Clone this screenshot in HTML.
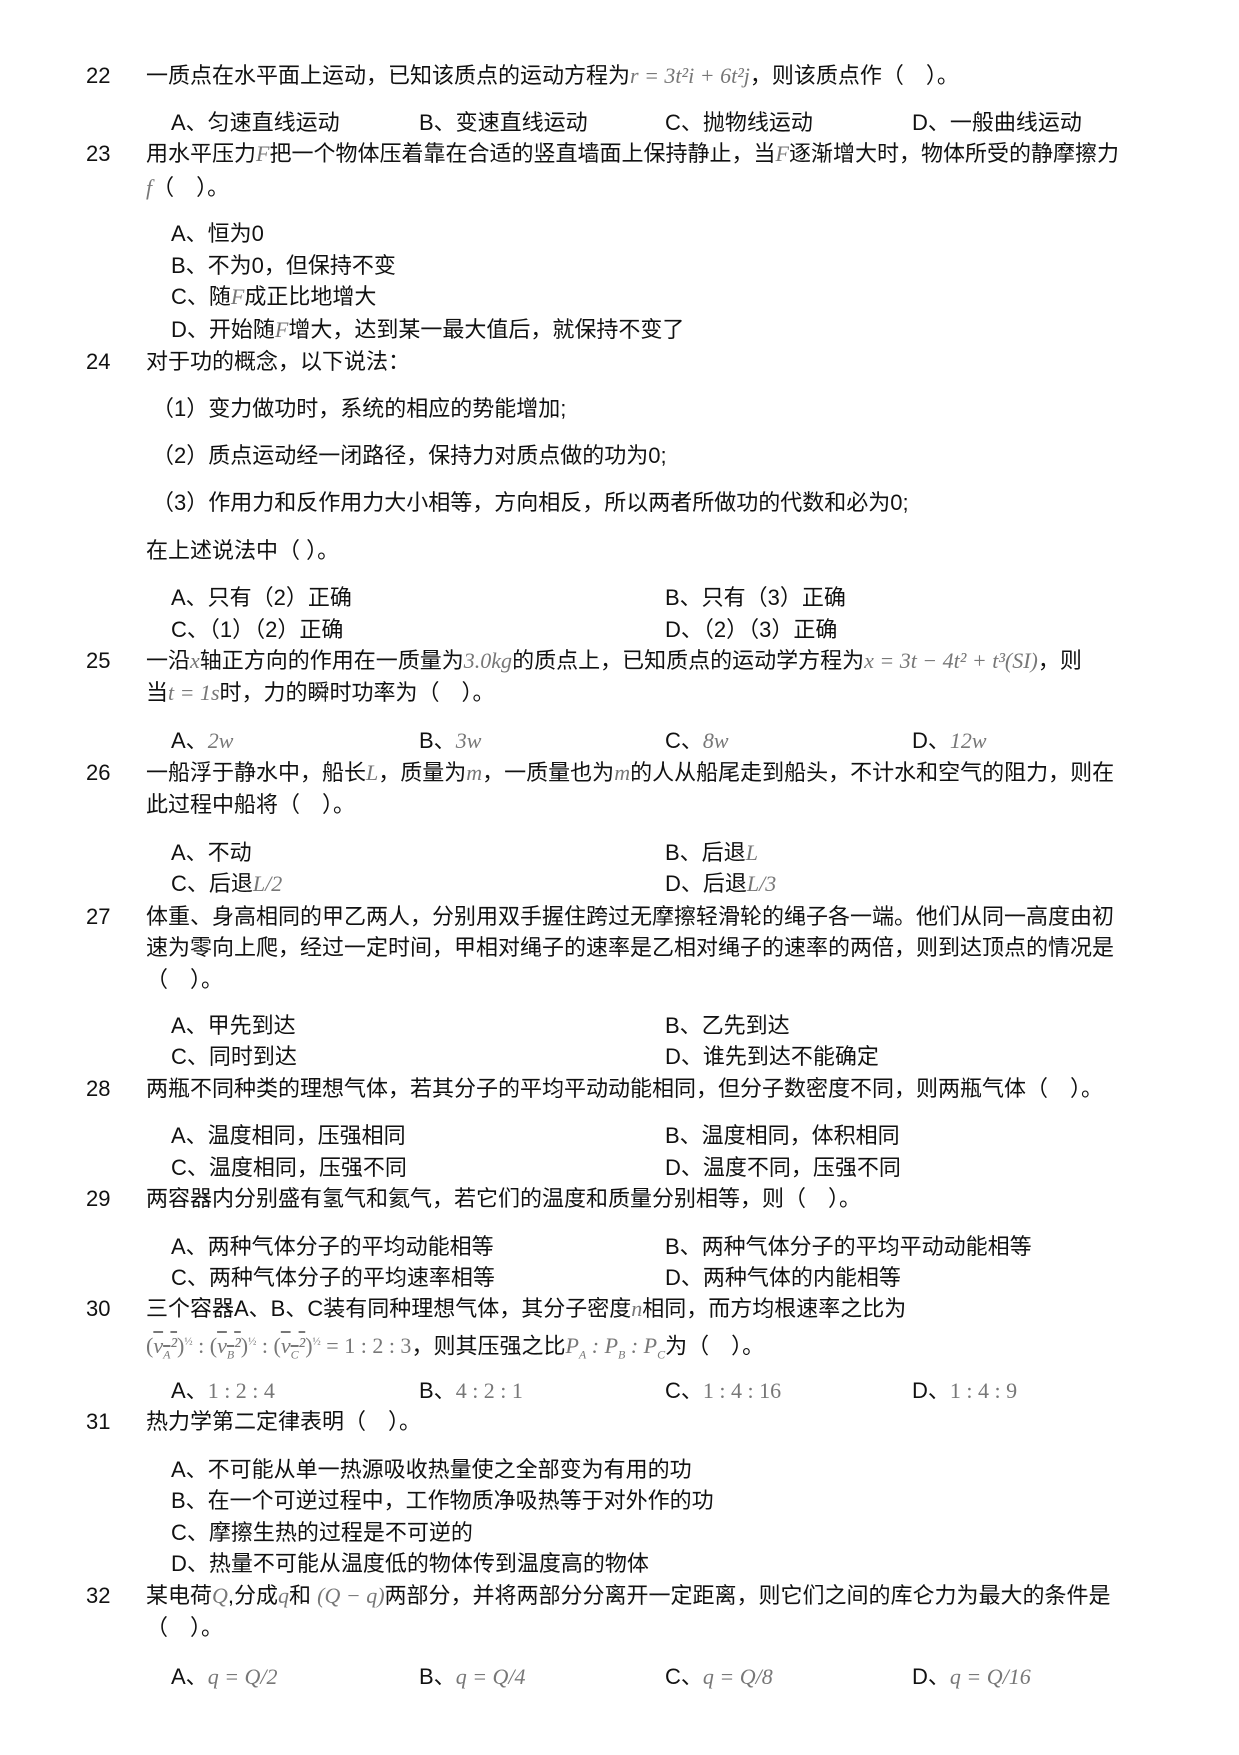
<!DOCTYPE html>
<html><head><meta charset="utf-8"><style>
body{margin:0;background:#fff;overflow:hidden;}
#p{position:relative;top:-1px;width:1239px;height:1755px;overflow:hidden;font-family:"Liberation Sans","Noto Sans CJK SC",sans-serif;font-size:22px;color:#111;}
#p div{position:absolute;white-space:nowrap;line-height:26px;}
.m{font-family:"Liberation Serif",serif;font-style:italic;color:#777;}
.n{font-family:"Liberation Serif",serif;color:#777;}
</style></head><body><div id="p">
<div style="left:86px;top:64px">22</div>
<div style="left:146px;top:64px">一质点在水平面上运动，已知该质点的运动方程为<span class="m">r = 3t²i + 6t²j</span>，则该质点作（　）。</div>
<div style="left:171px;top:111px">A、匀速直线运动</div><div style="left:419px;top:111px">B、变速直线运动</div><div style="left:665px;top:111px">C、抛物线运动</div><div style="left:912px;top:111px">D、一般曲线运动</div>

<div style="left:86px;top:142px">23</div>
<div style="left:146px;top:142px">用水平压力<span class="m">F</span>把一个物体压着靠在合适的竖直墙面上保持静止，当<span class="m">F</span>逐渐增大时，物体所受的静摩擦力</div>
<div style="left:146px;top:176px"><span class="m">f</span>（　）。</div>
<div style="left:171px;top:222px">A、恒为0</div>
<div style="left:171px;top:254px">B、不为0，但保持不变</div>
<div style="left:171px;top:285px">C、随<span class="m">F</span>成正比地增大</div>
<div style="left:171px;top:318px">D、开始随<span class="m">F</span>增大，达到某一最大值后，就保持不变了</div>

<div style="left:86px;top:350px">24</div>
<div style="left:146px;top:350px">对于功的概念，以下说法：</div>
<div style="left:152px;top:397px">（1）变力做功时，系统的相应的势能增加;</div>
<div style="left:152px;top:444px">（2）质点运动经一闭路径，保持力对质点做的功为0;</div>
<div style="left:152px;top:491px">（3）作用力和反作用力大小相等，方向相反，所以两者所做功的代数和必为0;</div>
<div style="left:146px;top:539px">在上述说法中（ ）。</div>
<div style="left:171px;top:586px">A、只有（2）正确</div><div style="left:665px;top:586px">B、只有（3）正确</div>
<div style="left:171px;top:618px">C、（1）（2）正确</div><div style="left:665px;top:618px">D、（2）（3）正确</div>

<div style="left:86px;top:649px">25</div>
<div style="left:146px;top:649px">一沿<span class="m">x</span>轴正方向的作用在一质量为<span class="m">3.0kg</span>的质点上，已知质点的运动学方程为<span class="m">x = 3t − 4t² + t³(SI)</span>，则</div>
<div style="left:146px;top:681px">当<span class="m">t = 1s</span>时，力的瞬时功率为（　）。</div>
<div style="left:171px;top:729px">A、<span class="m">2w</span></div><div style="left:419px;top:729px">B、<span class="m">3w</span></div><div style="left:665px;top:729px">C、<span class="m">8w</span></div><div style="left:912px;top:729px">D、<span class="m">12w</span></div>

<div style="left:86px;top:761px">26</div>
<div style="left:146px;top:761px">一船浮于静水中，船长<span class="m">L</span>，质量为<span class="m">m</span>，一质量也为<span class="m">m</span>的人从船尾走到船头，不计水和空气的阻力，则在</div>
<div style="left:146px;top:793px">此过程中船将（　）。</div>
<div style="left:171px;top:841px">A、不动</div><div style="left:665px;top:841px">B、后退<span class="m">L</span></div>
<div style="left:171px;top:872px">C、后退<span class="m">L/2</span></div><div style="left:665px;top:872px">D、后退<span class="m">L/3</span></div>

<div style="left:86px;top:905px">27</div>
<div style="left:146px;top:905px">体重、身高相同的甲乙两人，分别用双手握住跨过无摩擦轻滑轮的绳子各一端。他们从同一高度由初</div>
<div style="left:146px;top:936px">速为零向上爬，经过一定时间，甲相对绳子的速率是乙相对绳子的速率的两倍，则到达顶点的情况是</div>
<div style="left:146px;top:968px">（　）。</div>
<div style="left:171px;top:1014px">A、甲先到达</div><div style="left:665px;top:1014px">B、乙先到达</div>
<div style="left:171px;top:1045px">C、同时到达</div><div style="left:665px;top:1045px">D、谁先到达不能确定</div>

<div style="left:86px;top:1077px">28</div>
<div style="left:146px;top:1077px">两瓶不同种类的理想气体，若其分子的平均平动动能相同，但分子数密度不同，则两瓶气体（　）。</div>
<div style="left:171px;top:1124px">A、温度相同，压强相同</div><div style="left:665px;top:1124px">B、温度相同，体积相同</div>
<div style="left:171px;top:1156px">C、温度相同，压强不同</div><div style="left:665px;top:1156px">D、温度不同，压强不同</div>

<div style="left:86px;top:1187px">29</div>
<div style="left:146px;top:1187px">两容器内分别盛有氢气和氦气，若它们的温度和质量分别相等，则（　）。</div>
<div style="left:171px;top:1235px">A、两种气体分子的平均动能相等</div><div style="left:665px;top:1235px">B、两种气体分子的平均平动动能相等</div>
<div style="left:171px;top:1266px">C、两种气体分子的平均速率相等</div><div style="left:665px;top:1266px">D、两种气体的内能相等</div>

<div style="left:86px;top:1297px">30</div>
<div style="left:146px;top:1297px">三个容器A、B、C装有同种理想气体，其分子密度<span class="m">n</span>相同，而方均根速率之比为</div>
<div style="left:146px;top:1330px"><span class="n">(<span style="text-decoration:overline" class="m">v<sub style="font-size:12px">A</sub>²</span>)<sup style="font-size:11px">½</sup> : (<span style="text-decoration:overline" class="m">v<sub style="font-size:12px">B</sub>²</span>)<sup style="font-size:11px">½</sup> : (<span style="text-decoration:overline" class="m">v<sub style="font-size:12px">C</sub>²</span>)<sup style="font-size:11px">½</sup> = 1 : 2 : 3</span>，则其压强之比<span class="m">P<sub style="font-size:12px">A</sub> : P<sub style="font-size:12px">B</sub> : P<sub style="font-size:12px">C</sub></span>为（　）。</div>
<div style="left:171px;top:1379px">A、<span class="n">1 : 2 : 4</span></div><div style="left:419px;top:1379px">B、<span class="n">4 : 2 : 1</span></div><div style="left:665px;top:1379px">C、<span class="n">1 : 4 : 16</span></div><div style="left:912px;top:1379px">D、<span class="n">1 : 4 : 9</span></div>

<div style="left:86px;top:1410px">31</div>
<div style="left:146px;top:1410px">热力学第二定律表明（　）。</div>
<div style="left:171px;top:1458px">A、不可能从单一热源吸收热量使之全部变为有用的功</div>
<div style="left:171px;top:1489px">B、在一个可逆过程中，工作物质净吸热等于对外作的功</div>
<div style="left:171px;top:1521px">C、摩擦生热的过程是不可逆的</div>
<div style="left:171px;top:1552px">D、热量不可能从温度低的物体传到温度高的物体</div>

<div style="left:86px;top:1584px">32</div>
<div style="left:146px;top:1584px">某电荷<span class="m">Q</span>,分成<span class="m">q</span>和 <span class="m">(Q − q)</span>两部分，并将两部分分离开一定距离，则它们之间的库仑力为最大的条件是</div>
<div style="left:146px;top:1616px">（　）。</div>
<div style="left:171px;top:1665px">A、<span class="m">q = Q/2</span></div><div style="left:419px;top:1665px">B、<span class="m">q = Q/4</span></div><div style="left:665px;top:1665px">C、<span class="m">q = Q/8</span></div><div style="left:912px;top:1665px">D、<span class="m">q = Q/16</span></div>
</div></body></html>
